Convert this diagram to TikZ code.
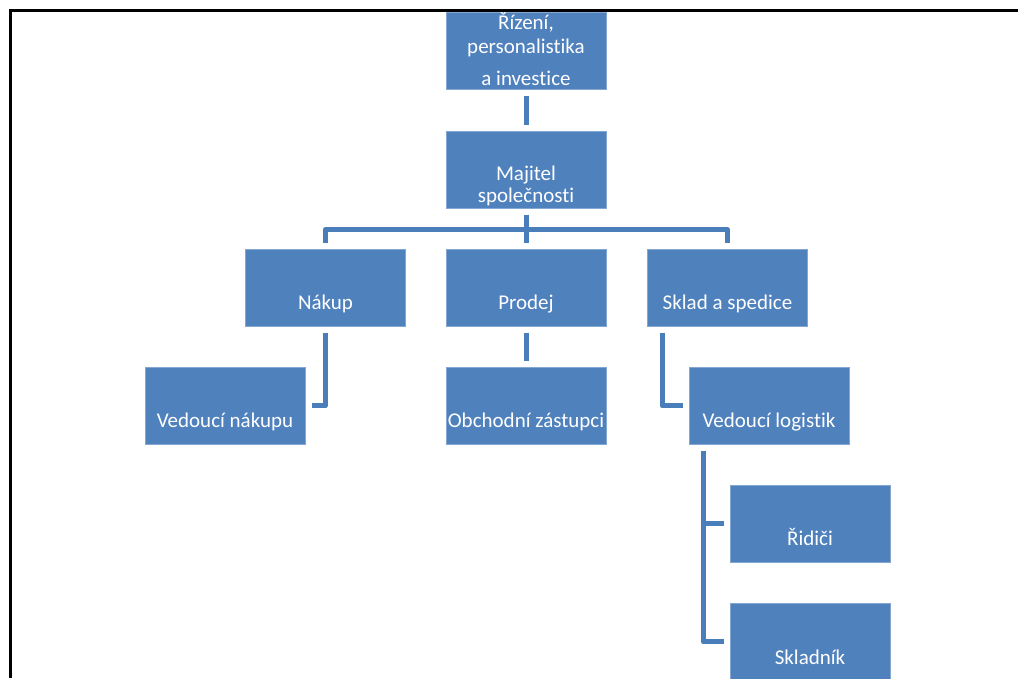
\documentclass[tikz,border=0pt]{standalone}
\usepackage{fontspec}
\setmainfont{Carlito}[Ligatures={NoCommon}]
\usetikzlibrary{calc}
\definecolor{boxblue}{HTML}{4F81BD}
\definecolor{linkblue}{HTML}{4A7EBB}
\tikzset{
  orgbox/.style={rectangle, fill=boxblue, draw=boxblue!70!white, line width=0.6pt, inner sep=0pt, minimum width=160pt, minimum height=77pt, anchor=north west},
  lbl/.style={anchor=base, text=white, inner sep=0pt, font=\fontsize{21}{25}\selectfont},
  conn/.style={draw=linkblue, line width=5pt, line join=round, shorten <=6pt, shorten >=6pt},
  frame/.style={draw=black, line width=3pt}
}
\begin{document}
\begin{tikzpicture}[x=1pt,y=-1pt]
\useasboundingbox (0,0) rectangle (1018,678);
% boxes
\node[orgbox] (top) at (446,12) {};
\node[orgbox] (maj) at (446,131) {};
\node[orgbox] (nakup) at (245,249) {};
\node[orgbox] (prodej) at (446,249) {};
\node[orgbox] (sklad) at (647,249) {};
\node[orgbox] (vn) at (145,367) {};
\node[orgbox] (oz) at (446,367) {};
\node[orgbox] (vl) at (689,367) {};
\node[orgbox] (ridici) at (730,485) {};
\node[orgbox] (skladnik) at (730,603) {};
% labels
\node[lbl] (t1) at (526,29) {Řízení,};
\node[lbl] (t2) at (526,53) {personalistika};
\node[lbl] (t3) at (526,85) {a investice};
\node[lbl] (m1) at (526,180) {Majitel};
\node[lbl] (m2) at (526,202) {společnosti};
\node[lbl] (ln) at (325.5,309) {Nákup};
\node[lbl] (lp) at (526,309) {Prodej};
\node[lbl] (ls) at (727.5,309) {Sklad a spedice};
\node[lbl] (lvn) at (225,427) {Vedoucí nákupu};
\node[lbl] (loz) at (526,427) {Obchodní zástupci};
\node[lbl] (lvl) at (769,427) {Vedoucí logistik};
\node[lbl] (lr) at (810,545) {Řidiči};
\node[lbl] (lsk) at (810,664) {Skladník};
% connectors
\draw[conn] (top.south) -- (maj.north);
\draw[conn] (maj.south) -- ++(0,21) -| (nakup.north);
\draw[conn] (maj.south) -- (prodej.north);
\draw[conn] (maj.south) -- ++(0,21) -| (sklad.north);
\draw[conn] (nakup.south) |- (vn.east);
\draw[conn] (prodej.south) -- (oz.north);
\draw[conn] ($(sklad.south west)+(15,0)$) |- (vl.west);
\draw[conn] ($(vl.south west)+(14,0)$) |- (ridici.west);
\draw[conn] ($(vl.south west)+(14,0)$) |- (skladnik.west);
% frame
\draw[frame] (10,678) -- (10,10) -- (1018,10);
\end{tikzpicture}
\end{document}
